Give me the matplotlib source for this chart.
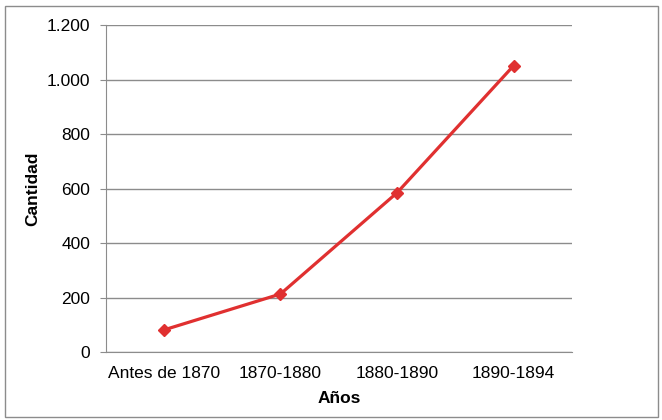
import matplotlib.pyplot as plt
from matplotlib.patches import Rectangle
from matplotlib.ticker import FuncFormatter

# data
periodos = ['Antes de 1870', '1870-1880', '1880-1890', '1890-1894']
cantidad = [81, 213, 585, 1052]
y_ticks = [0, 200, 400, 600, 800, 1000, 1200]

plt.rcParams['font.family'] = ['Liberation Sans', 'DejaVu Sans']

fig = plt.figure(figsize=(6.62, 4.2), dpi=100)
ax = fig.add_axes([105.5 / 662, 1 - 352 / 420, (572 - 105.5) / 662, (352 - 25.3) / 420])

# outer frame of the chart area
fig.patches.append(Rectangle((5 / 662, 1 - 417 / 420), 653 / 662, 411 / 420,
                             transform=fig.transFigure, fill=False,
                             edgecolor='#8c8c8c', linewidth=1))

x = [i + 0.5 for i in range(len(periodos))]
ax.plot(x, cantidad, color='#e03030', linewidth=2.3, marker='D', markersize=6,
        markeredgecolor='#e03030', zorder=3)

ax.set_xlim(0, len(periodos))
ax.set_ylim(0, 1200)
ax.set_yticks(y_ticks)
ax.yaxis.set_major_formatter(FuncFormatter(lambda v, p: f'{int(v):,}'.replace(',', '.')))
ax.set_xticks(x)
ax.set_xticklabels(periodos)

ax.grid(axis='y', color='#8c8c8c', linewidth=1)
ax.set_axisbelow(True)
for s in ['top', 'right']:
    ax.spines[s].set_visible(False)
for s in ['left', 'bottom']:
    ax.spines[s].set_color('#8c8c8c')
ax.tick_params(axis='y', length=4, color='#8c8c8c', labelsize=12.5, pad=7)
ax.tick_params(axis='x', length=0, labelsize=12.5, pad=10)

ax.set_ylabel('Cantidad', fontsize=12.5, fontweight='bold', labelpad=5)
ax.set_xlabel('Años', fontsize=12.5, fontweight='bold', labelpad=7)

fig.savefig('out.png', dpi=100)
